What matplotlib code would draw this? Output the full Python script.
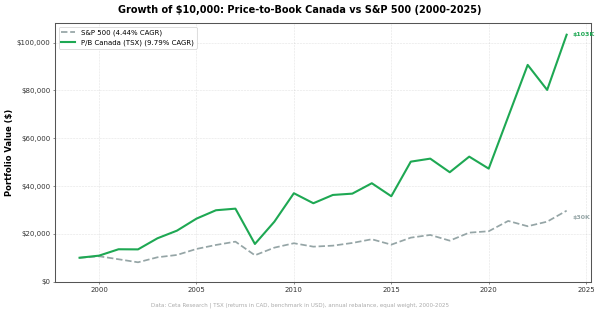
import matplotlib
matplotlib.use("Agg")
import matplotlib.pyplot as plt
from matplotlib.ticker import FuncFormatter

# ---------------------------------------------------------------------------
# Data
# ---------------------------------------------------------------------------
YEARS = list(range(1999, 2025))
PB_CANADA = [10000, 10880, 13550, 13500, 18150, 21340, 26360, 29870, 30540, 15770,
             25100, 36990, 32800, 36270, 36820, 41170, 35730, 50200, 51460, 45770,
             52300, 47280, 69000, 90670, 80200, 103300]
SP500 = [10000, 10630, 9370, 8100, 10200, 11170, 13680, 15350, 16740, 11040,
         14230, 16070, 14640, 15060, 16190, 17740, 15480, 18410, 19540, 17150,
         20500, 21090, 25400, 23180, 25100, 29700]

LABEL_SP = "S&P 500 (4.44% CAGR)"
LABEL_PB = "P/B Canada (TSX) (9.79% CAGR)"
TITLE = "Growth of $10,000: Price-to-Book Canada vs S&P 500 (2000-2025)"
FOOTER = ("Data: Ceta Research | TSX (returns in CAD, benchmark in USD), "
          "annual rebalance, equal weight, 2000-2025")

GREEN = "#1ea853"
GRAY = "#95a5a6"


def main() -> None:
    fig = plt.figure(figsize=(12, 6.28), dpi=50)
    ax = fig.add_axes([0.092, 0.103, 0.893, 0.823])

    ax.plot(YEARS, SP500, color=GRAY, lw=2.5, ls="--", label=LABEL_SP)
    ax.plot(YEARS, PB_CANADA, color=GREEN, lw=3, label=LABEL_PB)

    # end labels
    ax.annotate(f"${PB_CANADA[-1] / 1000:.0f}K", (YEARS[-1], PB_CANADA[-1]),
                xytext=(8, 1), textcoords="offset points", va="center",
                color=GREEN, fontsize=9, fontweight="bold")
    ax.annotate(f"${SP500[-1] / 1000:.0f}K", (YEARS[-1], SP500[-1]),
                xytext=(8, -6), textcoords="offset points", va="top",
                color=GRAY, fontsize=9, fontweight="bold")

    ax.set_ylim(0, 108100)
    ax.yaxis.set_major_formatter(FuncFormatter(lambda v, _: f"${v:,.0f}"))
    ax.tick_params(labelsize=10, colors="#333333")
    ax.grid(True, ls="--", alpha=0.35)
    for sp in ax.spines.values():
        sp.set_color("#555555")
        sp.set_linewidth(1.5)

    ax.set_ylabel("Portfolio Value ($)", fontsize=12, fontweight="bold")
    fig.suptitle(TITLE, fontsize=14, fontweight="bold", y=0.985)
    ax.legend(loc="upper left", fontsize=10, framealpha=0.9)
    fig.text(0.5, 0.025, FOOTER, ha="center", fontsize=8, color="#aaaaaa")

    fig.savefig("out.png", dpi=50)
    plt.close(fig)


if __name__ == "__main__":
    main()
